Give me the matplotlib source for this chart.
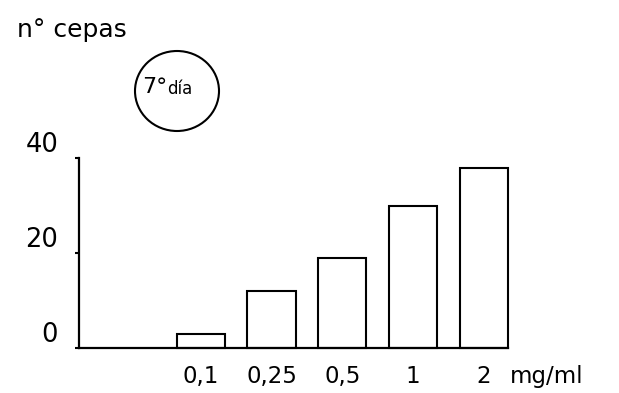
import matplotlib
matplotlib.use("Agg")
import matplotlib.pyplot as plt
from matplotlib.patches import Ellipse
import numpy as np

# data
doses = ["0,1", "0,25", "0,5", "1", "2"]
n_cepas = [3, 12, 19, 30, 38]
yticks = [0, 20, 40]

W, H = 619, 393
fig = plt.figure(figsize=(W / 100, H / 100), dpi=100)
plt.rcParams['font.family'] = ['DejaVu Sans']

# axes box in pixels: x 79..508, y 158..348
ax = fig.add_axes([79 / W, 1 - 348 / H, (508 - 79) / W, (348 - 158) / H])

x = np.arange(len(doses))
bars = ax.bar(x, n_cepas, width=0.68, facecolor='white', edgecolor='black', linewidth=1.5)
for b in bars:
    b.set_clip_on(False)

ax.set_xlim(-1.72, 4.34)
ax.set_ylim(0, 40)

for s in ['top', 'right']:
    ax.spines[s].set_visible(False)
ax.spines['left'].set_linewidth(1.6)
ax.spines['bottom'].set_linewidth(1.6)

ax.set_yticks(yticks)
ax.set_yticklabels([str(v) for v in yticks], fontsize=18.5, va='bottom')
ax.tick_params(axis='y', length=3, width=1.5, pad=12)

ax.set_xticks(x)
ax.set_xticklabels(doses, fontsize=16.5)
ax.tick_params(axis='x', length=0, pad=12)

# unit after the last tick label
ax.annotate("mg/ml", xy=(4.37, 0), xycoords=('data', 'axes fraction'),
            xytext=(0, -12), textcoords='offset points',
            fontsize=16.5, ha='left', va='top', annotation_clip=False)

# y title
fig.text(17 / W, 1 - 37 / H, "n° cepas", fontsize=18, va='baseline', ha='left')

# circled day label
fig.patches.append(Ellipse((177 / W, 1 - 91 / H), 84 / W, 80 / H,
                           transform=fig.transFigure, facecolor='none',
                           edgecolor='black', linewidth=1.5))
fig.text(142 / W, 1 - 93 / H, "7°", fontsize=16, va='baseline', ha='left')
fig.text(167 / W, 1 - 94 / H, "día", fontsize=12, va='baseline', ha='left')

fig.savefig("out.png", dpi=100)
